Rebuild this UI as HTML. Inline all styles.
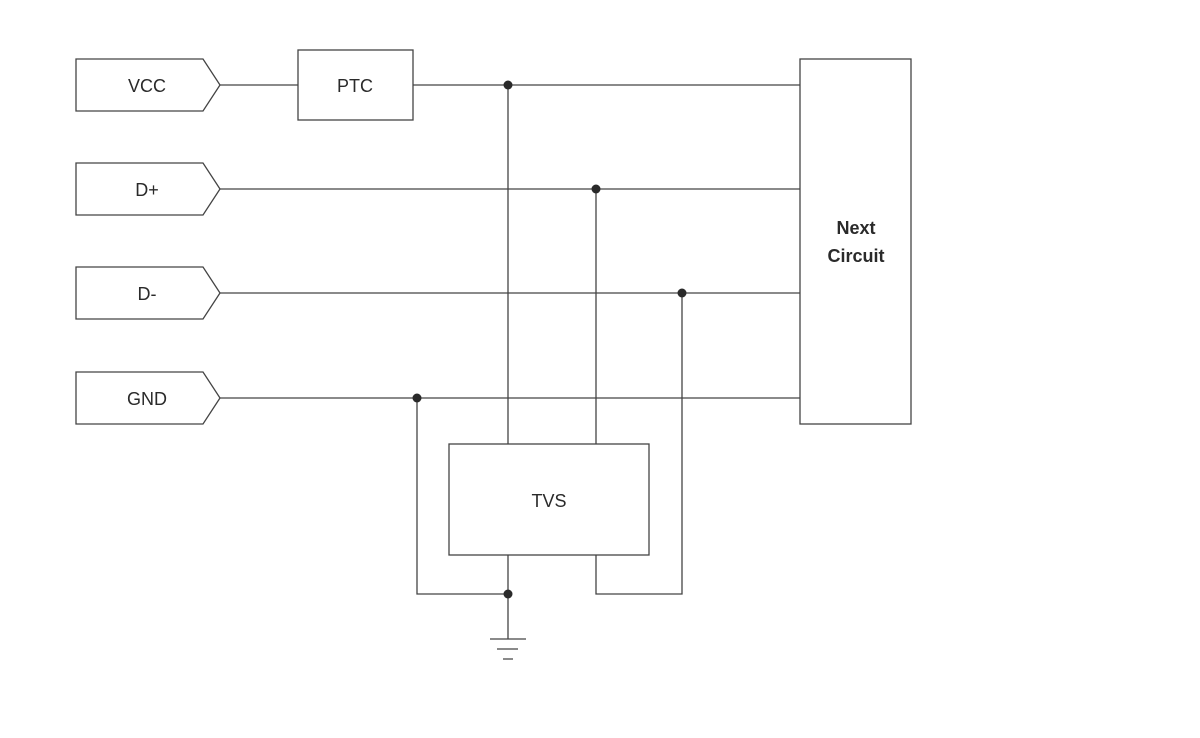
<!DOCTYPE html>
<html><head><style>body{margin:0;background:#fff}svg{display:block}text{font-family:"Liberation Sans",sans-serif;fill:#2a2a2a;font-size:18px}</style></head>
<body><svg width="1200" height="738" viewBox="0 0 1200 738" xmlns="http://www.w3.org/2000/svg">
<g fill="none" stroke="#444" stroke-width="1.3">
<path d="M76 59H203L220 85L203 111H76Z"/>
<path d="M76 163H203L220 189L203 215H76Z"/>
<path d="M76 267H203L220 293L203 319H76Z"/>
<path d="M76 372H203L220 398L203 424H76Z"/>
<rect x="298" y="50" width="115" height="70"/>
<rect x="800" y="59" width="111" height="365"/>
<rect x="449" y="444" width="200" height="111"/>
<path d="M220 85H298M413 85H800M220 189H800M220 293H800M220 398H800"/>
<path d="M508 85V444M596 189V444M682 293V594H596V555M417 398V594H508M508 555V639"/>
<path d="M490 639H526M497 649H518M503 659H513"/>
</g>
<g fill="#2a2a2a"><circle cx="508" cy="85" r="4.5"/><circle cx="596" cy="189" r="4.5"/><circle cx="682" cy="293" r="4.5"/><circle cx="417" cy="398" r="4.5"/><circle cx="508" cy="594" r="4.5"/></g>
<g text-anchor="middle">
<text x="147" y="92">VCC</text><text x="147" y="196">D+</text><text x="147" y="300">D-</text><text x="147" y="405">GND</text>
<text x="355" y="92">PTC</text><text x="549" y="507">TVS</text>
<text x="856" y="234" font-weight="bold">Next</text><text x="856" y="262" font-weight="bold">Circuit</text>
</g>
</svg></body></html>
